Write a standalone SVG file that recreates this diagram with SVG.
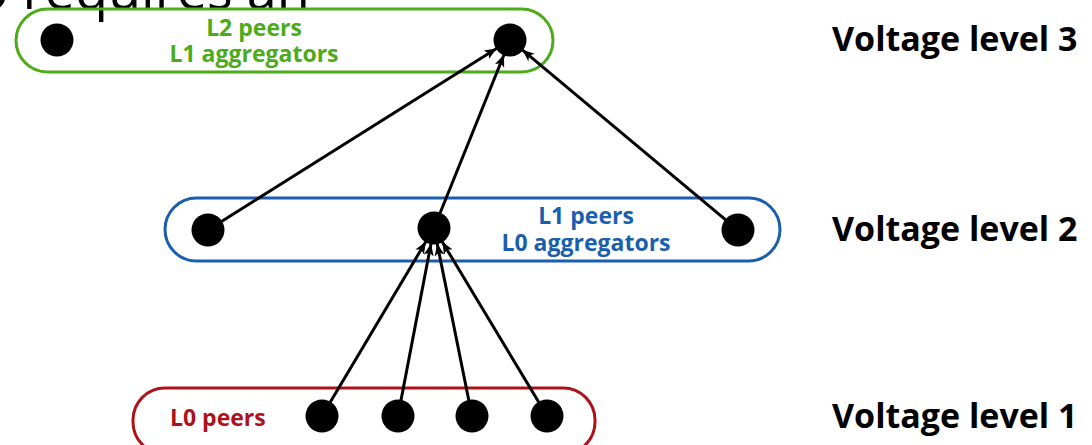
<svg xmlns="http://www.w3.org/2000/svg" width="1092" height="445" viewBox="0 0 1092 445">
  <style>
    .bg { fill: #ffffff; }
    .group { fill: none; stroke-width: 3; }
    .g3 { stroke: #4cab18; }
    .g2 { stroke: #1a5fae; }
    .g1 { stroke: #ad1119; }
    .dot { fill: #000000; }
    .lbl { font-family: "Open Sans", "Liberation Sans", sans-serif; font-weight: bold; font-size: 23px; }
    .mid { text-anchor: middle; }
    .lg { fill: #4cab18; }
    .lb { fill: #1a5fae; }
    .lr { fill: #ad1119; }
    .vl { font-family: "Open Sans", "Liberation Sans", sans-serif; font-weight: bold; font-size: 34px; fill: #000000; }
    .title { font-family: "Open Sans", "Liberation Sans", sans-serif; font-size: 54px; fill: #000000; }
    .conn { stroke: #000000; stroke-width: 3; fill: none; marker-end: url(#arrow); }
  </style>
  <defs>
    <marker id="arrow" markerUnits="userSpaceOnUse" markerWidth="14" markerHeight="12" refX="12" refY="5" orient="auto">
      <path d="M0,0 L12,5 L0,10 L3,5 z" fill="#000000"/>
    </marker>
  </defs>
  <rect class="bg" x="0" y="0" width="1092" height="445"/>

  <text class="title" x="-24" y="9">o requires an</text>

  <g id="level3">
    <rect class="group g3" x="16" y="9" width="537" height="63" rx="31.5" ry="31.5"/>
    <text class="lbl lg mid" x="254" y="36">L2 peers</text>
    <text class="lbl lg mid" x="254" y="62">L1 aggregators</text>
    <text class="vl" x="832" y="51">Voltage level 3</text>
  </g>
  <g id="level2">
    <rect class="group g2" x="165" y="198" width="615" height="63" rx="31.5" ry="31.5"/>
    <text class="lbl lb mid" x="586" y="224">L1 peers</text>
    <text class="lbl lb mid" x="586" y="251">L0 aggregators</text>
    <text class="vl" x="832" y="241">Voltage level 2</text>
  </g>
  <g id="level1">
    <rect class="group g1" x="133" y="388" width="462" height="66" rx="32" ry="32"/>
    <text class="lbl lr" x="170" y="426">L0 peers</text>
    <text class="vl" x="832" y="428">Voltage level 1</text>
  </g>

  <g id="connectors">
    <line class="conn" x1="221.5" y1="221.5" x2="496.5" y2="48.5"/>
    <line class="conn" x1="440" y1="213.2" x2="504" y2="54.8"/>
    <line class="conn" x1="725.7" y1="219.8" x2="522.3" y2="49.8"/>
    <line class="conn" x1="330.2" y1="402.3" x2="425.8" y2="241.7"/>
    <line class="conn" x1="401" y1="400.3" x2="431" y2="243.7"/>
    <line class="conn" x1="468.8" y1="400.3" x2="437.2" y2="243.7"/>
    <line class="conn" x1="538.8" y1="402.3" x2="442.2" y2="241.7"/>
  </g>

  <g id="n3a"><circle class="dot" cx="57" cy="40" r="16.5"/></g>
  <g id="n3b"><circle class="dot" cx="510" cy="40" r="16.5"/></g>
  <g id="n2a"><circle class="dot" cx="208" cy="230" r="16.5"/></g>
  <g id="n2b"><circle class="dot" cx="434" cy="228" r="16.5"/></g>
  <g id="n2c"><circle class="dot" cx="738" cy="230" r="16.5"/></g>
  <g id="n1a"><circle class="dot" cx="322" cy="416" r="16.5"/></g>
  <g id="n1b"><circle class="dot" cx="398" cy="416" r="16.5"/></g>
  <g id="n1c"><circle class="dot" cx="472" cy="416" r="16.5"/></g>
  <g id="n1d"><circle class="dot" cx="547" cy="416" r="16.5"/></g>
</svg>
